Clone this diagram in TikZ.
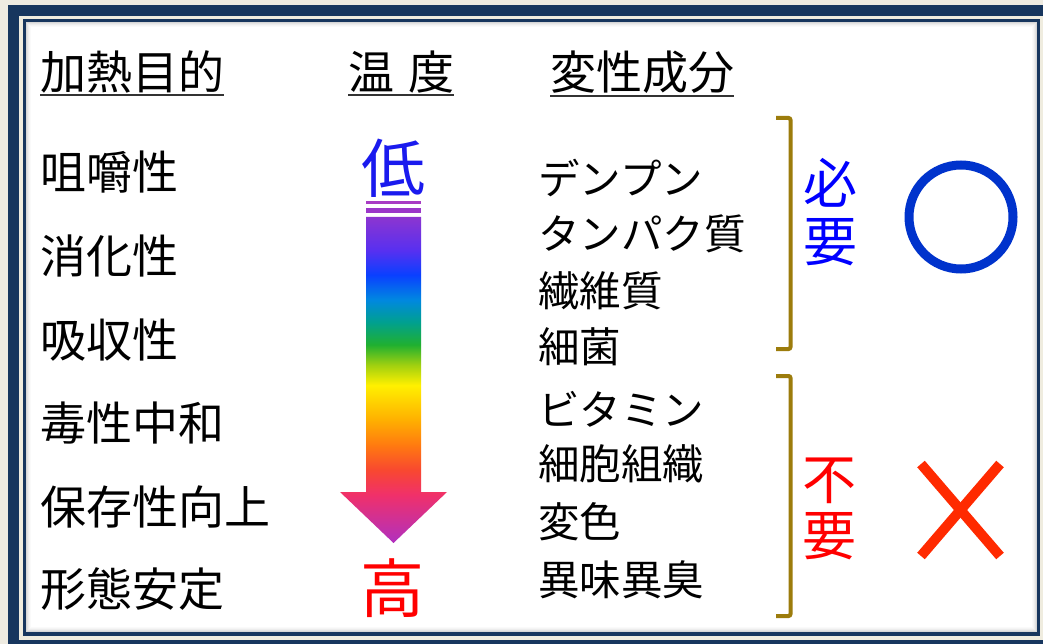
\documentclass[tikz,border=0pt]{standalone}
\usepackage{fontspec}
\newfontfamily\jp{Noto Sans CJK JP}
\definecolor{bgcol}{HTML}{EEEBE1}
\definecolor{navy}{HTML}{17365E}
\definecolor{cream}{HTML}{EFECDF}
\definecolor{brkcol}{HTML}{9C7C0C}
\definecolor{lowblue}{HTML}{1A1AEE}
\definecolor{okcol}{HTML}{0033CC}
\definecolor{ngcol}{HTML}{FF2A00}
\definecolor{stripecol}{HTML}{A83CC4}
\definecolor{ctop}{HTML}{8C35D0}
\definecolor{cviolet}{HTML}{5830F0}
\definecolor{cblue}{HTML}{0A40FF}
\definecolor{csky}{HTML}{0088E0}
\definecolor{cteal}{HTML}{00A090}
\definecolor{cgreen}{HTML}{20B030}
\definecolor{clime}{HTML}{A0D010}
\definecolor{cyellow}{HTML}{FFF000}
\definecolor{camber}{HTML}{FFB000}
\definecolor{corange}{HTML}{FF7A10}
\definecolor{cred}{HTML}{F84830}
\definecolor{cpink}{HTML}{F0306A}
\definecolor{ctip}{HTML}{B030C0}
\pgfdeclareverticalshading{rainbowarrow}{100bp}{%
color(0bp)=(ctip); color(25bp)=(ctip); color(32.4bp)=(cpink);
color(36.2bp)=(cred); color(40bp)=(corange); color(43.9bp)=(camber);
color(49.2bp)=(cyellow); color(52.3bp)=(clime); color(55.4bp)=(cgreen);
color(58.9bp)=(cteal); color(62.3bp)=(csky); color(66.1bp)=(cblue);
color(69.9bp)=(cviolet); color(75bp)=(ctop); color(100bp)=(ctop)}
\begin{document}
\begin{tikzpicture}[x=1pt,y=-1pt,
  txt/.style={font=\jp\fontsize{46}{50}\selectfont, anchor=west, inner sep=0pt, text=black},
  comp/.style={font=\jp\fontsize{41.5}{46}\selectfont, anchor=west, inner sep=0pt, text=black},
  temp/.style={font=\jp\fontsize{64}{64}\selectfont, inner sep=0pt},
  verdict/.style={font=\jp\fontsize{54}{58}\selectfont, inner sep=0pt, align=center},
  uline/.style={draw=black!80, line width=2pt},
  brk/.style={draw=brkcol, line width=4pt, rounded corners=2pt}]
\useasboundingbox (0,0) rectangle (1043,644);
\clip (0,0) rectangle (1043,644);
% frame
\fill[bgcol] (0,0) rectangle (1043,644);
\fill[navy] (8,5) rectangle (1070,670);
\fill[cream] (19,16) rectangle (1043.6,640);
\fill[navy] (23,19) rectangle (1040,636);
\fill[white] (26,22) rectangle (1037,632);
\foreach \i/\o in {0/0.16,1/0.11,2/0.07,3/0.04,4/0.02}
  \draw[black, opacity=\o, line width=1pt] (26.5+\i,22.5+\i) rectangle (1036.5-\i,631.5-\i);
% headers
\node[txt] (h1) at (40,72) {加熱目的};
\node[txt] (h2) at (348,72) {温\hspace{14pt}度};
\node[txt] (h3) at (550,72) {変性成分};
\foreach \h in {h1,h2,h3}
  \draw[uline] ([yshift=-2pt]\h.south west) -- ([yshift=-2pt]\h.south east);
% left column
\node[txt] (p1) at (40,172) {咀嚼性};
\node[txt] (p2) at (40,256) {消化性};
\node[txt] (p3) at (40,340) {吸収性};
\node[txt] (p4) at (40,423) {毒性中和};
\node[txt] (p5) at (40,507) {保存性向上};
\node[txt] (p6) at (40,589) {形態安定};
% temperature arrow
\node[temp, text=lowblue] (low) at (393,168) {低};
\node[temp, text=red] (high) at (392,588) {高};
\fill[stripecol] (366,200.7) rectangle (421,204);
\fill[stripecol!92!blue] (366,208.3) rectangle (421,213.3);
\shade[shading=rainbowarrow] (366,217) -- (421,217) -- (421,492) -- (447,492)
  -- (393.5,543) -- (340,492) -- (366,492) -- cycle;
% components
\node[comp] (c1) at (538,178) {デンプン};
\node[comp] (c2) at (538,234) {タンパク質};
\node[comp] (c3) at (538,291) {繊維質};
\node[comp] (c4) at (538,347) {細菌};
\node[comp] (c5) at (538,409) {ビタミン};
\node[comp] (c6) at (538,464) {細胞組織};
\node[comp] (c7) at (538,522) {変色};
\node[comp] (c8) at (538,580) {異味異臭};
% brackets
\draw[brk] (776,118) -- (790.5,118) -- (790.5,349) -- (776,349);
\draw[brk] (776,376) -- (790.5,376) -- (790.5,616) -- (776,616);
% verdicts
\node[verdict, text=blue] (need) at (830,212) {必\\要};
\node[verdict, text=red, font=\jp\fontsize{54}{56}\selectfont] (noneed) at (829,509) {不\\要};
\draw[okcol, line width=9pt] (961,217) circle (52);
\draw[ngcol, line width=10pt] (921,464) -- (1000,556);
\draw[ngcol, line width=10pt] (1000,464) -- (921,556);
\end{tikzpicture}
\end{document}
